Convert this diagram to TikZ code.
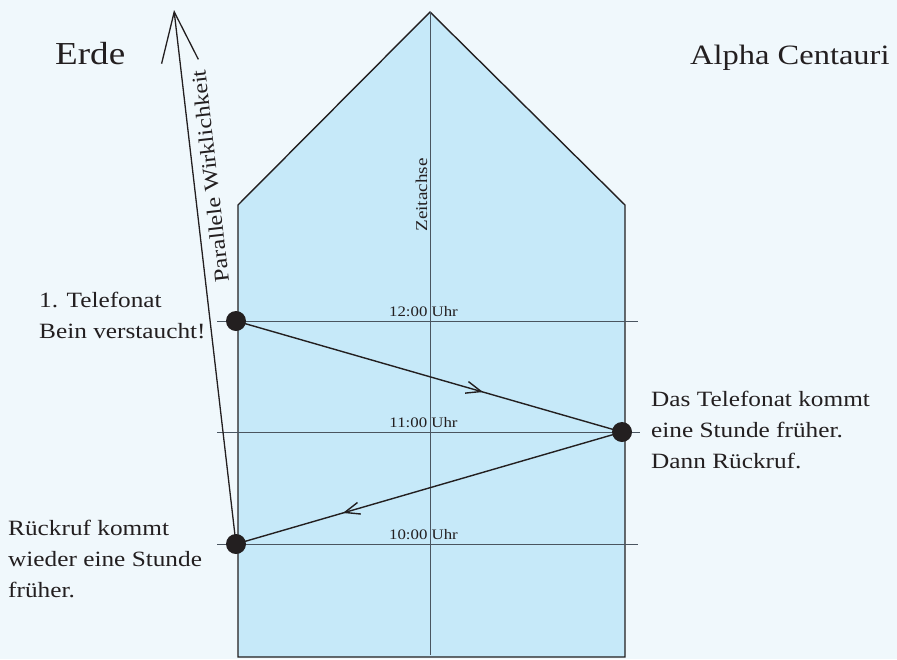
\documentclass[tikz,border=0pt]{standalone}
\usepackage{fontspec}
\setmainfont{Liberation Serif}[FakeStretch=1.16]
\usetikzlibrary{arrows.meta,decorations.markings}
\definecolor{bg}{HTML}{F0F8FC}
\definecolor{house}{HTML}{C6E9F9}
\definecolor{ink}{HTML}{231F20}
\definecolor{thinline}{HTML}{4A5560}
\tikzset{
  dot/.style={circle, fill=ink, inner sep=0pt, minimum size=20pt},
  hline/.style={draw=thinline, line width=1pt},
  phone/.style={draw=ink, line width=1.4pt},
  midbarb/.style={postaction={decorate, decoration={markings,
     mark=at position #1 with {\arrow{Straight Barb[length=15pt,width=12pt,line width=1.4pt]}}}}},
  clock/.style={font=\fontsize{14.5}{16}\selectfont, text=ink, inner sep=0pt, anchor=base},
  label/.style={font=\fontsize{21.8}{31}\selectfont, text=ink, inner sep=0pt, align=left, anchor=base west},
  title/.style={text=ink, inner sep=0pt, anchor=base west}
}
\begin{document}
\begin{tikzpicture}[x=1pt,y=-1pt]
\fill[bg] (0,0) rectangle (897,659);
\useasboundingbox (0,0) rectangle (897,659);
% house
\filldraw[fill=house, draw=ink, line width=1.4pt] (238,657) -- (238,205) -- (430,12) -- (625,205) -- (625,657) -- cycle;
% time axis
\coordinate (axtop) at (430,12);
\coordinate (axbot) at (430,655);
\draw[draw=thinline, line width=1pt] (axtop) -- (axbot);
\node[font=\fontsize{16.5}{18}\selectfont, text=ink, inner sep=0pt, anchor=base, rotate=90] (zeit) at (427,195) {Zeitachse};
% hour lines
\coordinate (h12l) at (217,321); \coordinate (h12r) at (638,321);
\coordinate (h11l) at (217,432); \coordinate (h11r) at (640,432);
\coordinate (h10l) at (217,544); \coordinate (h10r) at (638,544);
\draw[hline] (h12l) -- (h12r);
\draw[hline] (h11l) -- (h11r);
\draw[hline] (h10l) -- (h10r);
\node[clock] (l12) at (423.5,316) {12:00 Uhr};
\node[clock] (l11) at (423.5,427) {11:00 Uhr};
\node[clock] (l10) at (423.5,539) {10:00 Uhr};
% dots
\node[dot] (d12) at (236,321) {};
\node[dot] (d11) at (622,432) {};
\node[dot] (d10) at (236,544) {};
% phone calls
\draw[phone, midbarb=0.64] (d12.center) -- (d11.center);
\draw[phone, midbarb=0.723] (d11.center) -- (d10.center);
% parallel reality
\coordinate (ptop) at (174,10);
\draw[ink, line width=1.3pt, -{Straight Barb[length=50pt,width=37pt,line width=1.3pt]}] (d10.center) -- (ptop);
\path (d10.center) -- (ptop) node[pos=0.685, anchor=north, rotate=96.4, inner sep=9pt, font=\fontsize{21}{24}\selectfont, text=ink] (pw) {Parallele Wirklichkeit};
% titles
\node[title, font=\fontsize{32}{36}\selectfont] (erde) at (55,64) {Erde};
\node[title, font=\fontsize{28}{32}\selectfont] (alpha) at (690,64) {Alpha Centauri};
% labels (anchor = baseline of last line)
\node[label] (t1) at (39,338) {1. Telefonat\\Bein verstaucht!};
\node[label] (t2) at (651,468) {Das Telefonat kommt\\eine Stunde früher.\\Dann Rückruf.};
\node[label] (t3) at (8,597) {Rückruf kommt\\wieder eine Stunde\\früher.};
\end{tikzpicture}
\end{document}
